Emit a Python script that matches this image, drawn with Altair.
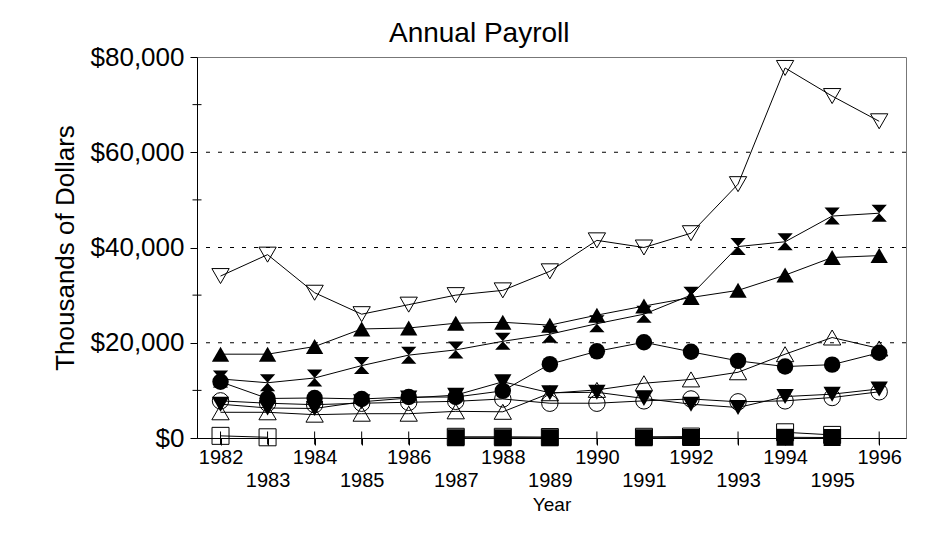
import altair as alt
import pandas as pd

# ---- data (values in dollars) ----
years = list(range(1982, 1997))

open_down = [34000, 38500, 30500, 26000, 28000, 30000, 31000, 35000, 41500, 40000, 43000, 53300, 77700, 71800, 66500]
filled_up = [17600, 17600, 19200, 22900, 23100, 24100, 24300, 23700, 25800, 27700, 29500, 31000, 34200, 37900, 38300]
hourglass = [12400, 11600, 12600, 15200, 17400, 18500, 20300, 21800, 24000, 26000, 30000, 40200, 41200, 46600, 47200]
filled_circle = [11800, 8300, 8400, 8200, 8600, 8600, 9900, 15500, 18200, 20100, 18100, 16200, 15000, 15400, 17900]
open_up = [5400, 5400, 4900, 5100, 5100, 5600, 5500, 9400, 10100, 11500, 12300, 13800, 17600, 21100, 18800]
filled_down = [7100, 6300, 6200, 7600, 8400, 9000, 11800, 9500, 9600, 8300, 7100, 6400, 8700, 9200, 10300]
open_circle = [7800, 7300, 7000, 7300, 7500, 7700, 8200, 7300, 7300, 7800, 8200, 7600, 7800, 8500, 9700]
open_square = [450, 150, None, None, None, 250, 250, 200, None, 250, 300, None, 1200, 650, None]
filled_square = [None, None, None, None, None, 50, 50, 50, None, 50, 100, None, 150, 100, None]

series_values = {
    "open_down": open_down,
    "open_square": open_square,
    "open_up": open_up,
    "open_circle": open_circle,
    "filled_down": filled_down,
    "filled_circle": filled_circle,
    "hourglass": hourglass,
    "filled_up": filled_up,
    "filled_square": filled_square,
}

y_major = [0, 20000, 40000, 60000, 80000]
y_minor = [10000, 30000, 50000, 70000]
grid_values = [20000, 40000, 60000]

# ---- marker styles ----
HOURGLASS = "M-0.9,-1L0.9,-1L-0.9,1L0.9,1Z"
styles = {
    "open_down": ("triangle-down", False, 300),
    "open_square": ("square", False, 289),
    "open_up": ("triangle-up", False, 300),
    "open_circle": ("circle", False, 270),
    "filled_down": ("triangle-down", True, 300),
    "filled_circle": ("circle", True, 270),
    "hourglass": (HOURGLASS, True, 289),
    "filled_up": ("triangle-up", True, 300),
    "filled_square": ("square", True, 289),
}

rows = []
for name, vals in series_values.items():
    seg = 0
    prev = None
    for yr, v in zip(years, vals):
        if v is None:
            prev = None
            continue
        if prev is None:
            seg += 1
        rows.append({"year": yr, "value": v, "series": name, "seg": f"{name}-{seg}"})
        prev = v
df = pd.DataFrame(rows)

FONT = "Liberation Sans"

x_scale = alt.Scale(domain=[1981.5, 1996.57], nice=False, zero=False)
y_scale = alt.Scale(domain=[0, 80000], nice=False)

x_axis = alt.Axis(
    values=years, format="d", title="Year",
    labelExpr="datum.value % 2 == 0 ? datum.label : ['', datum.label]",
    labelFontSize=20, labelLineHeight=23, labelBaseline="top", labelPadding=2,
    labelOverlap=False, labelFlush=False, labelBound=False,
    tickSize=7, titleFontSize=19, titlePadding=5, grid=False,
)
y_axis = alt.Axis(
    values=y_major, format="$,.0f", title="Thousands of Dollars",
    labelFontSize=26, labelPadding=6, tickSize=7,
    titleFontSize=26, titlePadding=12, grid=False,
)

X = alt.X("year:Q", scale=x_scale, axis=x_axis)
Y = alt.Y("value:Q", scale=y_scale, axis=y_axis)

grid = alt.Chart(pd.DataFrame({"v": grid_values})).mark_rule(
    color="black", strokeWidth=1, strokeDash=[4, 8]
).encode(y=alt.Y("v:Q", scale=y_scale, axis=y_axis))

xticks = alt.Chart(pd.DataFrame({"year": years})).mark_tick(
    orient="vertical", size=13, thickness=1, color="black", opacity=1
).encode(x=X, y=alt.datum(0))

yticks = alt.Chart(pd.DataFrame({"v": y_minor})).mark_tick(
    orient="horizontal", size=9, thickness=1, color="black", opacity=1
).encode(x=alt.datum(1981.5), y=alt.Y("v:Q", scale=y_scale, axis=y_axis))

lines = alt.Chart(df).mark_line(color="black", strokeWidth=1).encode(
    x=X, y=Y, detail="seg:N"
)

layers = [grid, lines]
for name in series_values:
    shape, filled, size = styles[name]
    layers.append(
        alt.Chart(df).transform_filter(alt.datum.series == name).mark_point(
            shape=shape, filled=filled, size=size, color="black",
            opacity=1, strokeWidth=1,
        ).encode(x=X, y=Y)
    )
layers += [xticks, yticks]

chart = alt.layer(*layers).properties(
    width=709, height=381,
    autosize=alt.AutoSizeParams(type="none"),
    padding={"left": 189, "top": 49, "right": 30, "bottom": 100},
    title=alt.TitleParams(
        "Annual Payroll", fontSize=28, fontWeight="normal", font=FONT,
        color="black", anchor="middle", frame="bounds", baseline="alphabetic",
        offset=1, dy=27,
    ),
).configure_view(
    stroke="#777777", strokeWidth=1
).configure_axis(
    labelFont=FONT, titleFont=FONT, labelColor="black", titleColor="black",
    titleFontWeight="normal", domainColor="black", tickColor="black",
    domainWidth=1, tickWidth=1,
)

chart.save("out.html", embed_options={"renderer": "svg", "actions": False})
